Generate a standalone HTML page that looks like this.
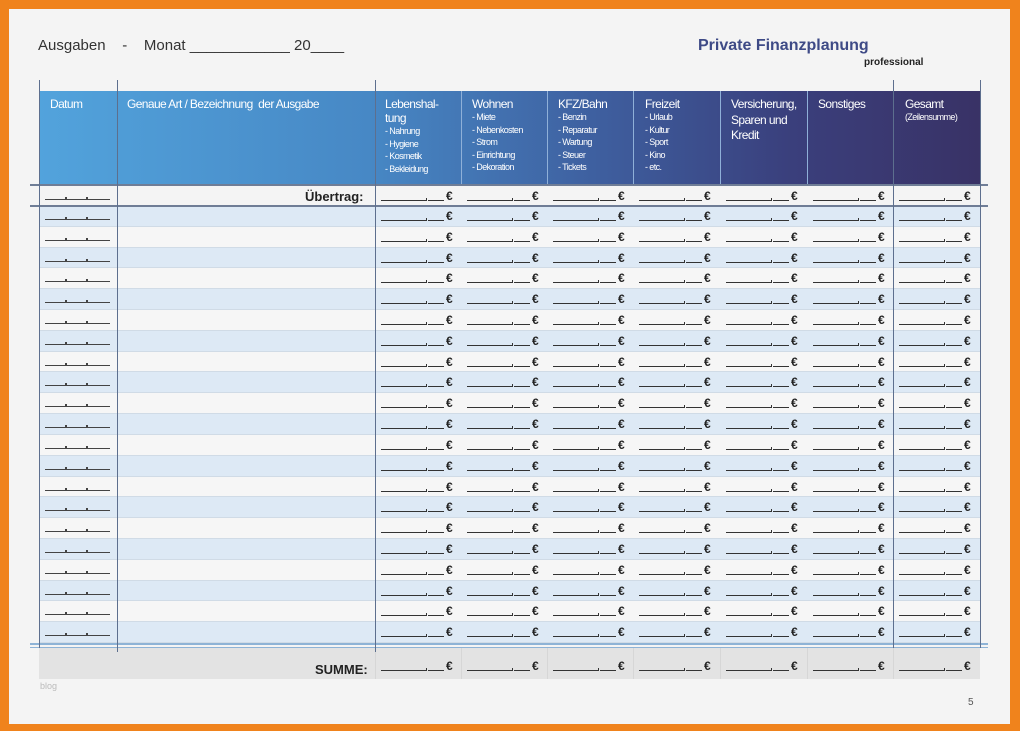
<!DOCTYPE html>
<html><head><meta charset="utf-8"><style>
*{margin:0;padding:0;box-sizing:border-box}
body{width:1020px;height:731px;background:#f0831c;position:relative;overflow:hidden;font-family:"Liberation Sans",sans-serif}
#pg{position:absolute;left:9px;top:9px;width:1001px;height:715px;background:#f4f4f4}
.a{position:absolute}
.hd{color:#fff;font-size:12px;letter-spacing:-0.6px;line-height:14px}
.hd small{display:block;font-size:9px;line-height:12.5px;letter-spacing:-0.6px}
.vl{position:absolute;width:1px;background:#5d6f8e}
</style></head><body>
<div id="pg"></div>
<div class="a" style="left:38px;top:37px;font-size:15px;color:#333">Ausgaben&nbsp;&nbsp;&nbsp;&nbsp;-&nbsp;&nbsp;&nbsp;&nbsp;Monat ____________ 20____</div>
<div class="a" style="left:698px;top:37px;font-size:16px;font-weight:bold;color:#3e4a86">Private Finanzplanung</div>
<div class="a" style="left:864px;top:57px;font-size:10px;font-weight:bold;color:#222">professional</div>
<div class="a" style="left:39px;top:91px;width:941px;height:93px;background:linear-gradient(90deg,#52a3dc 0%,#4788c5 35%,#3e5e9e 60%,#3a3f7c 80%,#393266 100%)"></div>
<div id="rows"></div>
<div class="a" style="left:39px;top:648px;width:941px;height:31px;background:#e3e3e3"></div>
<div id="sum"></div>
<div class="a" style="left:30px;top:184px;width:958px;height:2px;background:#6f7d96"></div>
<div class="a" style="left:30px;top:205px;width:958px;height:2px;background:#6f7d96"></div>
<div class="a" style="left:30px;top:643px;width:958px;height:2px;background:#8eb3d6"></div>
<div class="a" style="left:30px;top:647px;width:958px;height:1px;background:#8eb3d6"></div>
<div class="vl" style="left:39px;top:80px;height:568px"></div>
<div class="vl" style="left:117px;top:80px;height:572px"></div>
<div class="vl" style="left:375px;top:80px;height:572px"></div>
<div class="vl" style="left:893px;top:80px;height:568px"></div>
<div class="vl" style="left:980px;top:80px;height:568px"></div>
<div class="a" style="left:461px;top:91px;width:1px;height:93px;background:#8fb0d8"></div>
<div class="a" style="left:547px;top:91px;width:1px;height:93px;background:#8fb0d8"></div>
<div class="a" style="left:633px;top:91px;width:1px;height:93px;background:#8fb0d8"></div>
<div class="a" style="left:720px;top:91px;width:1px;height:93px;background:#8fb0d8"></div>
<div class="a" style="left:807px;top:91px;width:1px;height:93px;background:#8fb0d8"></div>
<div class="a hd" style="left:50px;top:97px">Datum</div>
<div class="a hd" style="left:127px;top:97px">Genaue Art / Bezeichnung&nbsp; der Ausgabe</div>
<div class="a hd" style="left:385px;top:97px">Lebenshal-<br>tung<small>- Nahrung<br>- Hygiene<br>- Kosmetik<br>- Bekleidung</small></div>
<div class="a hd" style="left:472px;top:97px">Wohnen<small>- Miete<br>- Nebenkosten<br>- Strom<br>- Einrichtung<br>- Dekoration</small></div>
<div class="a hd" style="left:558px;top:97px">KFZ/Bahn<small>- Benzin<br>- Reparatur<br>- Wartung<br>- Steuer<br>- Tickets</small></div>
<div class="a hd" style="left:645px;top:97px">Freizeit<small>- Urlaub<br>- Kultur<br>- Sport<br>- Kino<br>- etc.</small></div>
<div class="a hd" style="left:731px;top:97px;line-height:15.5px">Versicherung,<br>Sparen und<br>Kredit</div>
<div class="a hd" style="left:818px;top:97px">Sonstiges</div>
<div class="a hd" style="left:905px;top:97px">Gesamt<small>(Zeilensumme)</small></div>
<div class="a" style="left:305px;top:189px;font-size:13px;font-weight:bold;color:#222">Übertrag:</div>
<div class="a" style="left:315px;top:662px;font-size:13px;font-weight:bold;color:#222">SUMME:</div>
<div class="a" style="left:40px;top:681px;font-size:9px;color:#bbb">blog</div>
<div class="a" style="left:968px;top:697px;font-size:10px;color:#555">5</div>
<script>
var cols=[375,461,547,633,720,807,893];
function money(y){var s='';for(var i=0;i<cols.length;i++){var x=cols[i];
s+='<div class="a" style="left:'+(x+6)+'px;top:'+(y+14)+'px;width:45px;height:1px;background:#333"></div>';
s+='<div class="a" style="left:'+(x+51)+'px;top:'+(y+12)+'px;width:1px;height:3px;background:#333"></div>';
s+='<div class="a" style="left:'+(x+53)+'px;top:'+(y+14)+'px;width:16px;height:1px;background:#333"></div>';
s+='<div class="a" style="left:'+(x+71)+'px;top:'+(y+3)+'px;font-size:12px;font-weight:bold;color:#222">€</div>';}
return s;}
function date(y){return '<div class="a" style="left:45px;top:'+(y+13)+'px;width:65px;height:1px;background:#444"></div>'+
'<div class="a" style="left:65px;top:'+(y+11)+'px;width:2px;height:2px;background:#444"></div><div class="a" style="left:86px;top:'+(y+11)+'px;width:2px;height:2px;background:#444"></div>';}
var h=date(186)+money(186);
var st=206,rh=437/21;
for(var k=0;k<21;k++){var y=Math.round(st+k*rh),y2=Math.round(st+(k+1)*rh);
var bg=(k%2==0)?'#dde9f5':'#f6f6f6';
h+='<div class="a" style="left:39px;top:'+y+'px;width:941px;height:'+(y2-y)+'px;background:'+bg+';border-bottom:1px solid #d0dbe6"></div>';
h+=date(y)+money(y);}
document.getElementById('rows').innerHTML=h;
var s='';for(var i=0;i<cols.length;i++){s+='<div class="a" style="left:'+cols[i]+'px;top:648px;width:1px;height:31px;background:#d6d6d6"></div>';}
document.getElementById('sum').innerHTML=s+money(656);
</script>
</body></html>
